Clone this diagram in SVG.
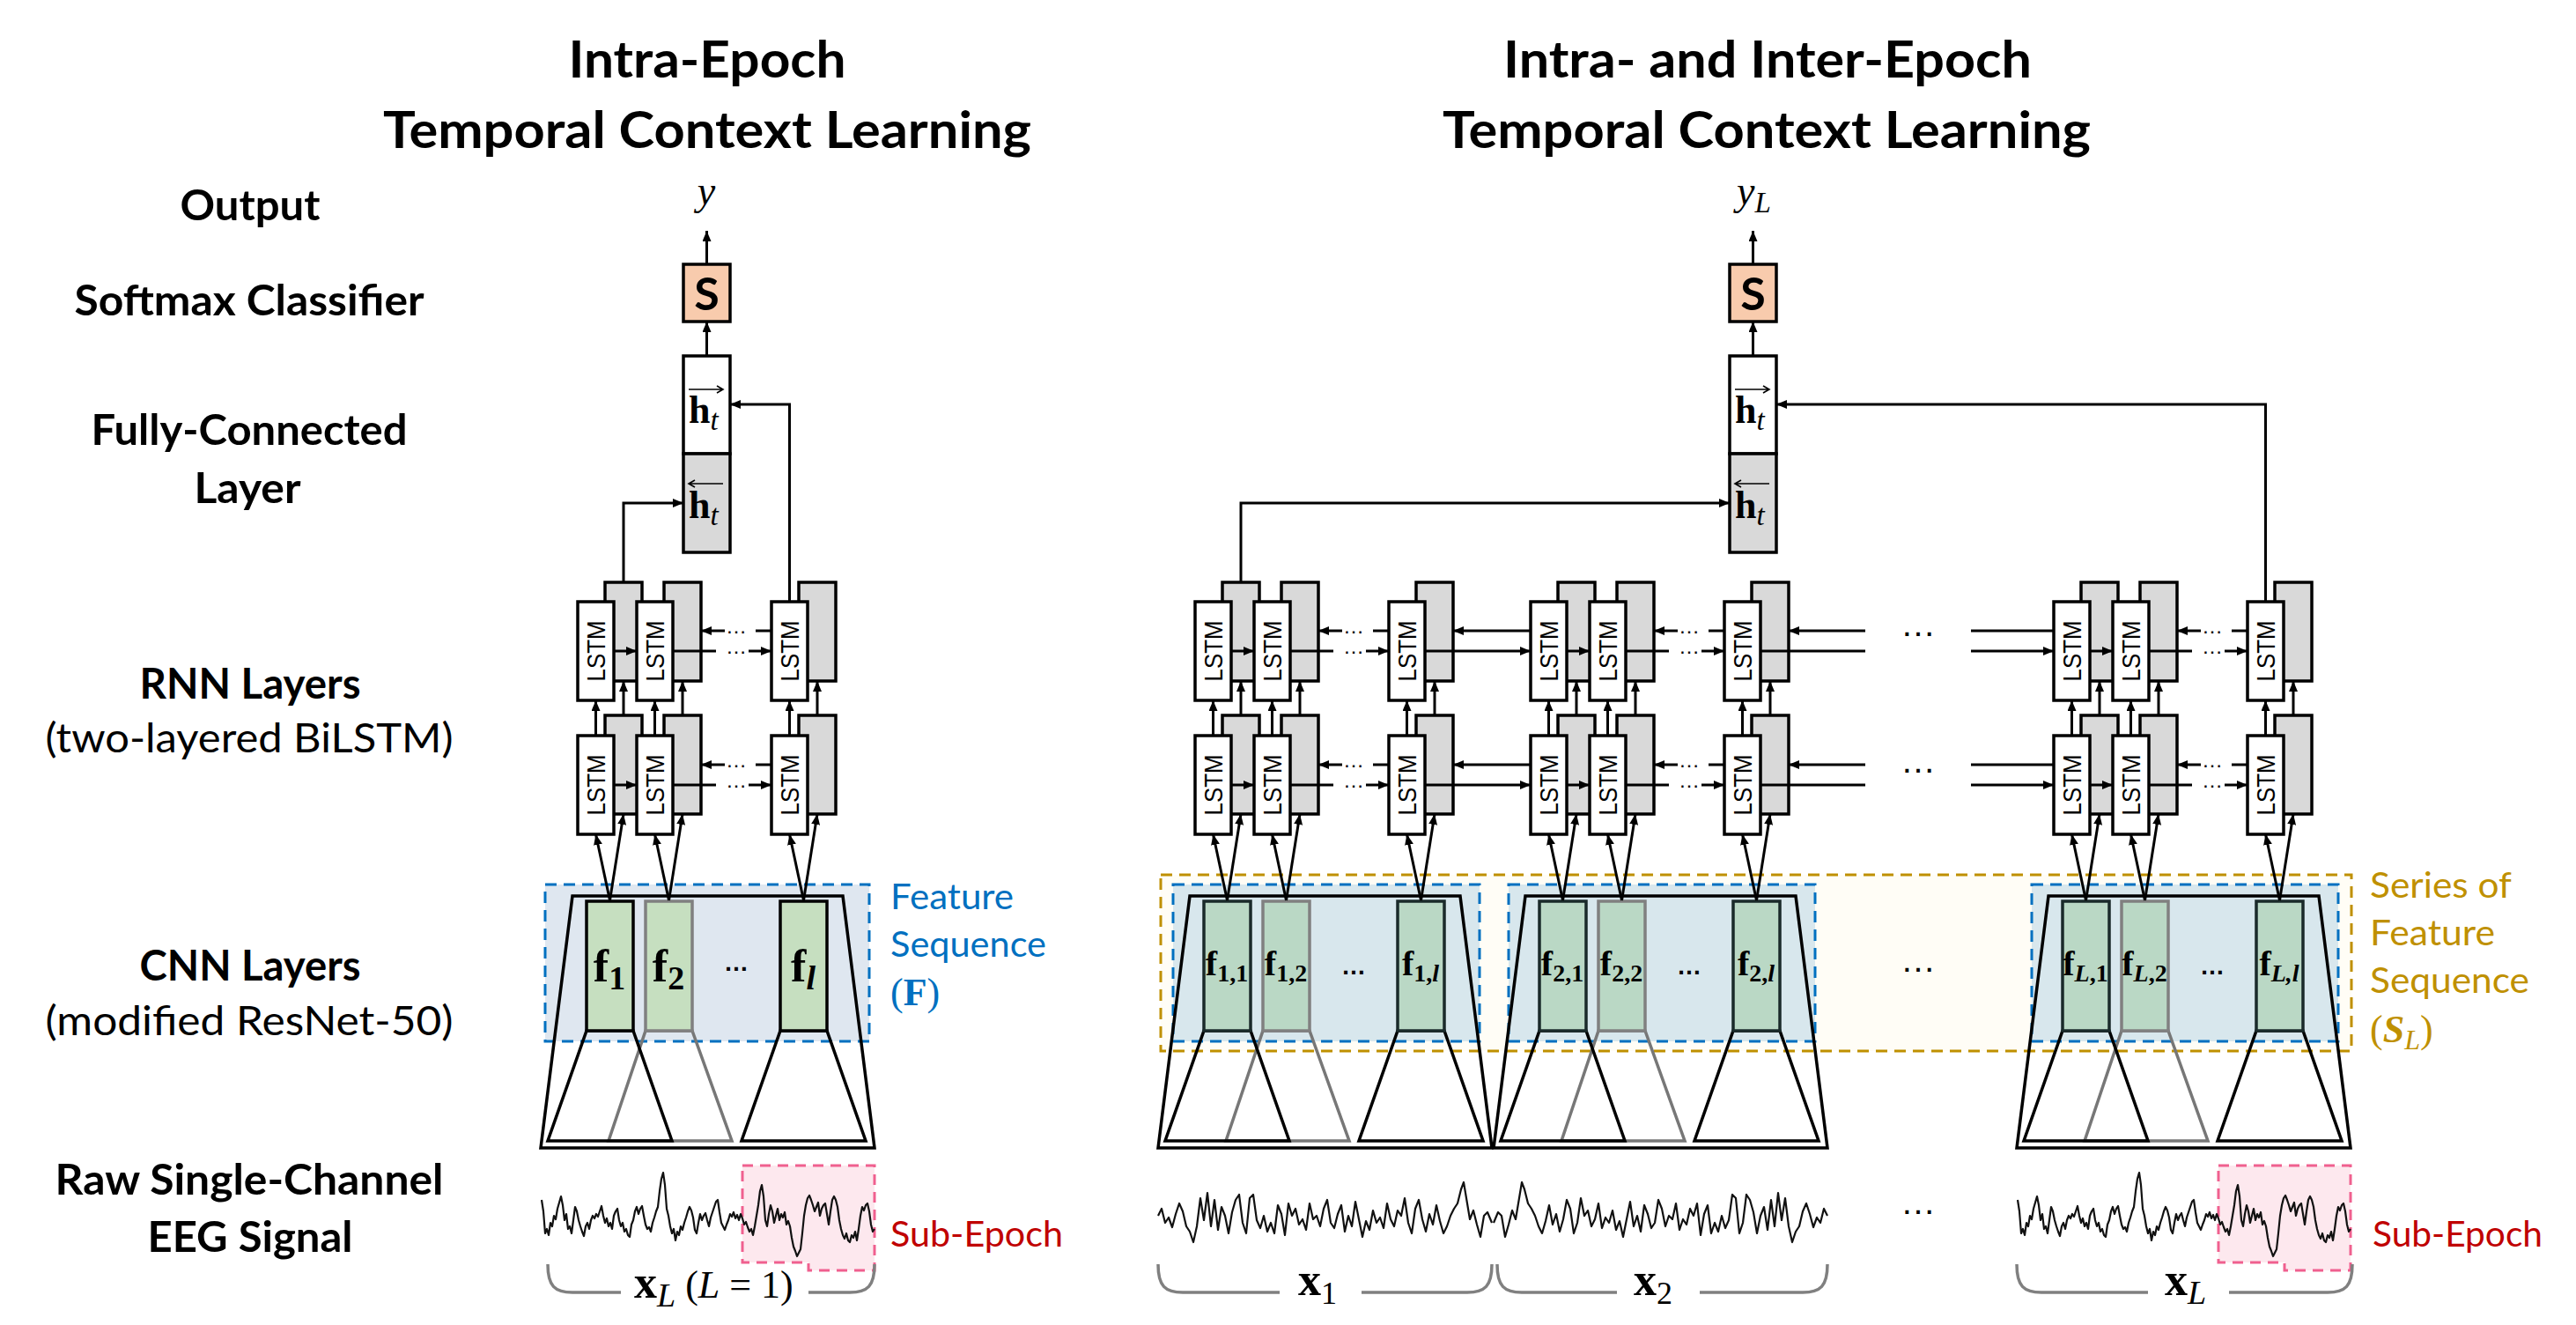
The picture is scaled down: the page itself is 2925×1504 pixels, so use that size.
<svg xmlns="http://www.w3.org/2000/svg" xmlns:xlink="http://www.w3.org/1999/xlink" width="2925" height="1504" viewBox="0 0 2925 1504">
<defs>
<marker id="ah" markerUnits="userSpaceOnUse" markerWidth="12" markerHeight="10" viewBox="0 0 12 10" refX="12" refY="5" orient="auto"><path d="M0,0 L12,5 L0,10 z" fill="#000"/></marker>
<style>
.bg{fill:#fff}
.gy{fill:#D9D9D9;stroke:#000;stroke-width:3.5}
.wh{fill:#fff;stroke:#000;stroke-width:3.5}
.ln{fill:none;stroke:#000;stroke-width:3}
.ar{fill:none;stroke:#000;stroke-width:3;marker-end:url(#ah)}
.thin{fill:none;stroke:#000;stroke-width:1.6}
.lstm{font-family:"Liberation Sans",Arial,sans-serif;font-size:29px;fill:#000}
.dots{font-family:"Liberation Sans",Arial,sans-serif;font-size:24px;fill:#000}
.bdots{font-family:"Liberation Sans",Arial,sans-serif;font-size:28px;fill:#000;font-weight:bold}
.hdots{font-family:"Liberation Sans",Arial,sans-serif;font-size:40px;fill:#000}
.ttl{font-family:Lato,"Liberation Sans",sans-serif;font-size:58px;font-weight:bold;fill:#000}
.lab{font-family:Lato,"Liberation Sans",sans-serif;font-size:48px;font-weight:bold;fill:#000}
.labn{font-family:Lato,"Liberation Sans",sans-serif;font-size:46px;fill:#000}
.blue{font-family:Lato,"Liberation Sans",sans-serif;font-size:40px;fill:#0070C0}
.gold{font-family:Lato,"Liberation Sans",sans-serif;font-size:40px;fill:#BF9000}
.red{font-family:Lato,"Liberation Sans",sans-serif;font-size:40px;fill:#C00000}
.math{font-family:"Liberation Serif","Times New Roman",serif;fill:#000}
.sbox{fill:#F8CBAD;stroke:#000;stroke-width:3.5}
.stxt{font-family:Lato,"Liberation Sans",sans-serif;font-size:52px;font-weight:bold;fill:#000}
.bluer{stroke:#0070C0;stroke-width:3;stroke-dasharray:13 8}
.fbox{fill:#C6DFC0;stroke:#000;stroke-width:3.5}
.fboxg{fill:#C6DFC0;stroke:#808080;stroke-width:3.5}
.fboxr{fill:#BAD8C5;stroke:#1A2A2A;stroke-width:3.5}
.fboxrg{fill:#BAD8C5;stroke:#808080;stroke-width:3.5}
.trap{fill:none;stroke:#000;stroke-width:3.5;stroke-linejoin:miter}
.trapg{fill:none;stroke:#777;stroke-width:3.5}
.sig{fill:none;stroke:#111;stroke-width:2.2;stroke-linejoin:round}
.pink{fill:#FDE8EE;stroke:#F0608F;stroke-width:3;stroke-dasharray:12 8}
.brace{fill:none;stroke:#808080;stroke-width:3.5}
</style>
<path id="sigA" class="sig" d="M615,1362 L617,1375 619,1400 621,1395 623,1402 625,1388 627,1392 629,1380 631,1384 633,1372 635,1365 637,1358 639,1368 641,1385 643,1378 645,1395 647,1392 649,1400 651,1385 653,1370 655,1375 657,1385 659,1392 661,1398 663,1403 665,1392 667,1388 669,1395 671,1385 673,1380 675,1383 677,1378 679,1381 681,1375 683,1369 685,1380 687,1388 689,1383 691,1392 693,1388 695,1395 697,1380 699,1375 701,1372 703,1385 705,1392 707,1388 709,1398 711,1395 713,1402 715,1404 717,1390 719,1385 721,1375 723,1370 725,1378 727,1372 729,1369 731,1380 733,1390 735,1395 737,1393 739,1398 741,1388 743,1382 745,1375 747,1370 749,1352 751,1338 753,1331 755,1345 757,1372 759,1380 761,1392 763,1400 765,1395 767,1408 769,1398 771,1402 773,1392 775,1396 777,1388 779,1382 781,1375 783,1370 785,1374 787,1382 789,1396 791,1400 793,1388 795,1378 797,1385 799,1380 801,1377 803,1385 805,1392 807,1382 809,1376 811,1370 813,1364 815,1362 817,1376 819,1388 821,1392 823,1396 825,1390 827,1385 829,1378 831,1381 833,1376 835,1383 837,1379 839,1385 841,1378 843,1383 845,1390 847,1387 849,1393 851,1398 853,1395 855,1402 857,1392 859,1380 861,1368 863,1352 865,1345 867,1358 869,1385 871,1392 873,1378 875,1368 877,1375 879,1388 881,1380 883,1372 885,1385 887,1378 889,1382 891,1376 893,1390 895,1386 897,1392 899,1405 901,1415 903,1420 905,1426 907,1422 909,1418 911,1400 913,1380 915,1368 917,1360 919,1357 921,1362 923,1368 925,1375 927,1370 929,1365 931,1380 933,1372 935,1368 937,1366 939,1378 941,1390 943,1375 945,1362 947,1358 949,1362 951,1370 953,1385 955,1395 957,1402 959,1406 961,1400 963,1408 965,1410 967,1402 969,1405 971,1398 973,1408 975,1395 977,1380 979,1370 981,1374 983,1368 985,1366 987,1375 989,1390 991,1398 993,1395"/>
<path id="sigB" class="sig" d="M1315,1380 L1319,1372 1323,1388 1327,1382 1331,1393 1335,1378 1339,1366 1343,1375 1347,1392 1351,1398 1355,1410 1359,1392 1363,1360 1367,1385 1371,1354 1375,1392 1379,1362 1383,1396 1387,1370 1391,1380 1395,1400 1399,1376 1403,1362 1407,1356 1411,1388 1415,1400 1419,1360 1423,1356 1427,1385 1431,1394 1435,1380 1439,1398 1443,1388 1447,1400 1451,1368 1455,1378 1459,1402 1463,1366 1467,1380 1471,1372 1475,1390 1479,1384 1483,1396 1487,1366 1491,1384 1495,1380 1499,1392 1503,1372 1507,1362 1511,1388 1515,1394 1519,1378 1523,1368 1527,1398 1531,1380 1535,1392 1539,1364 1543,1384 1547,1404 1551,1386 1555,1396 1559,1374 1563,1388 1567,1382 1571,1394 1575,1366 1579,1384 1583,1392 1587,1374 1591,1380 1595,1360 1599,1388 1603,1400 1607,1372 1611,1362 1615,1384 1619,1398 1623,1378 1627,1390 1631,1368 1635,1386 1639,1400 1643,1392 1647,1380 1651,1372 1655,1366 1659,1350 1662,1342 1665,1360 1669,1384 1673,1374 1677,1390 1681,1404 1685,1380 1689,1376 1694,1388"/>
</defs>
<rect class="bg" x="0" y="0" width="2925" height="1504"/>

<!-- Titles and row labels -->
<g id="titles">
<text class="ttl" x="803" y="88" text-anchor="middle" textLength="315" lengthAdjust="spacingAndGlyphs">Intra-Epoch</text>
<text class="ttl" x="803" y="168" text-anchor="middle" textLength="736" lengthAdjust="spacingAndGlyphs">Temporal Context Learning</text>
<text class="ttl" x="2007" y="88" text-anchor="middle" textLength="600" lengthAdjust="spacingAndGlyphs">Intra- and Inter-Epoch</text>
<text class="ttl" x="2006" y="168" text-anchor="middle" textLength="736" lengthAdjust="spacingAndGlyphs">Temporal Context Learning</text>
</g>
<g id="row-labels">
<text class="lab" x="284" y="250" text-anchor="middle" textLength="159" lengthAdjust="spacingAndGlyphs">Output</text>
<text class="lab" x="283" y="358" text-anchor="middle" textLength="397" lengthAdjust="spacingAndGlyphs">Softmax Classifier</text>
<text class="lab" x="283" y="505" text-anchor="middle" textLength="359" lengthAdjust="spacingAndGlyphs">Fully-Connected</text>
<text class="lab" x="281" y="571" text-anchor="middle" textLength="121" lengthAdjust="spacingAndGlyphs">Layer</text>
<text class="lab" x="284" y="793" text-anchor="middle" textLength="251" lengthAdjust="spacingAndGlyphs">RNN Layers</text>
<text class="labn" x="283" y="854" text-anchor="middle" textLength="463" lengthAdjust="spacingAndGlyphs">(two-layered BiLSTM)</text>
<text class="lab" x="284" y="1113" text-anchor="middle" textLength="251" lengthAdjust="spacingAndGlyphs">CNN Layers</text>
<text class="labn" x="283" y="1175" text-anchor="middle" textLength="463" lengthAdjust="spacingAndGlyphs">(modified ResNet-50)</text>
<text class="lab" x="283" y="1356" text-anchor="middle" textLength="441" lengthAdjust="spacingAndGlyphs">Raw Single-Channel</text>
<text class="lab" x="284" y="1421" text-anchor="middle" textLength="233" lengthAdjust="spacingAndGlyphs">EEG Signal</text>
</g>

<!-- Orange series region (right) -->
<g id="series-region">
<rect x="1318" y="993" width="1352" height="200" fill="#FFFDF6" stroke="#BF9000" stroke-width="3" stroke-dasharray="13 8"/>
<text class="gold" x="2691" y="1019" textLength="161" lengthAdjust="spacingAndGlyphs">Series of</text>
<text class="gold" x="2691" y="1073" textLength="142" lengthAdjust="spacingAndGlyphs">Feature</text>
<text class="gold" x="2691" y="1127" textLength="181" lengthAdjust="spacingAndGlyphs">Sequence</text>
<text class="math" x="2691" y="1183" font-size="44" style="fill:#BF9000">(<tspan font-weight="bold" font-style="italic">S</tspan><tspan font-style="italic" font-size="32" dy="8">L</tspan><tspan dy="-8">)</tspan></text>
</g>

<!-- Feature sequence boxes -->
<g id="feature-seq-left">
<rect x="619" y="1004" width="368" height="178" fill="#DFE7F0" class="bluer"/>
<text class="blue" x="1011" y="1032" textLength="140" lengthAdjust="spacingAndGlyphs">Feature</text>
<text class="blue" x="1011" y="1086" textLength="177" lengthAdjust="spacingAndGlyphs">Sequence</text>
<text class="math" x="1011" y="1141" font-size="44" style="fill:#0070C0">(<tspan font-weight="bold">F</tspan>)</text>
</g>
<g id="feature-seq-1"><rect x="1332" y="1004" width="348" height="178" fill="#D8E7ED" class="bluer"/></g>
<g id="feature-seq-2"><rect x="1713" y="1004" width="348" height="178" fill="#D8E7ED" class="bluer"/></g>
<g id="feature-seq-L"><rect x="2307" y="1004" width="348" height="178" fill="#D8E7ED" class="bluer"/></g>

<!-- CNN blocks -->
<g id="cnn-left">
<polygon class="trap" points="650,1017 957,1017 993,1303 614,1303"/>
<polygon class="trapg" points="733,1170 786,1170 831,1295 691,1295"/>
<polygon class="trap" points="666,1170 719,1170 763,1295 622,1295"/>
<polygon class="trap" points="886,1170 939,1170 983,1295 842,1295"/>
<rect class="fbox" x="666" y="1023" width="53" height="147"/>
<rect class="fboxg" x="733" y="1023" width="53" height="147"/>
<rect class="fbox" x="886" y="1023" width="53" height="147"/>
<text class="math" x="692" y="1114" text-anchor="middle" font-size="52" font-weight="bold">f<tspan font-size="38" dy="9">1</tspan></text>
<text class="math" x="759" y="1114" text-anchor="middle" font-size="52" font-weight="bold">f<tspan font-size="38" dy="9">2</tspan></text>
<text class="math" x="912" y="1114" text-anchor="middle" font-size="52" font-weight="bold">f<tspan font-size="38" dy="9" font-style="italic">l</tspan></text>
<text class="bdots" x="836" y="1102" text-anchor="middle">…</text>
</g>
<g id="cnn-1">
<polygon class="trap" points="1351,1017 1658,1017 1694,1303 1315,1303"/>
<polygon class="trapg" points="1434,1170 1487,1170 1532,1295 1392,1295"/>
<polygon class="trap" points="1367,1170 1420,1170 1464,1295 1323,1295"/>
<polygon class="trap" points="1587,1170 1640,1170 1684,1295 1543,1295"/>
<rect class="fboxr" x="1367" y="1023" width="53" height="147"/>
<rect class="fboxrg" x="1434" y="1023" width="53" height="147"/>
<rect class="fboxr" x="1587" y="1023" width="53" height="147"/>
<text class="math" x="1393" y="1107" text-anchor="middle" font-size="40" font-weight="bold">f<tspan font-size="28" dy="7">1,1</tspan></text>
<text class="math" x="1460" y="1107" text-anchor="middle" font-size="40" font-weight="bold">f<tspan font-size="28" dy="7">1,2</tspan></text>
<text class="math" x="1613" y="1107" text-anchor="middle" font-size="40" font-weight="bold">f<tspan font-size="28" dy="7">1,<tspan font-style="italic">l</tspan></tspan></text>
<text class="bdots" x="1537" y="1106" text-anchor="middle">…</text>
</g>
<g id="cnn-2">
<polygon class="trap" points="1732,1017 2039,1017 2075,1303 1696,1303"/>
<polygon class="trapg" points="1815,1170 1868,1170 1913,1295 1773,1295"/>
<polygon class="trap" points="1748,1170 1801,1170 1845,1295 1704,1295"/>
<polygon class="trap" points="1968,1170 2021,1170 2065,1295 1924,1295"/>
<rect class="fboxr" x="1748" y="1023" width="53" height="147"/>
<rect class="fboxrg" x="1815" y="1023" width="53" height="147"/>
<rect class="fboxr" x="1968" y="1023" width="53" height="147"/>
<text class="math" x="1774" y="1107" text-anchor="middle" font-size="40" font-weight="bold">f<tspan font-size="28" dy="7">2,1</tspan></text>
<text class="math" x="1841" y="1107" text-anchor="middle" font-size="40" font-weight="bold">f<tspan font-size="28" dy="7">2,2</tspan></text>
<text class="math" x="1994" y="1107" text-anchor="middle" font-size="40" font-weight="bold">f<tspan font-size="28" dy="7">2,<tspan font-style="italic">l</tspan></tspan></text>
<text class="bdots" x="1918" y="1106" text-anchor="middle">…</text>
</g>
<g id="cnn-L">
<polygon class="trap" points="2326,1017 2633,1017 2669,1303 2290,1303"/>
<polygon class="trapg" points="2409,1170 2462,1170 2507,1295 2367,1295"/>
<polygon class="trap" points="2342,1170 2395,1170 2439,1295 2298,1295"/>
<polygon class="trap" points="2562,1170 2615,1170 2659,1295 2518,1295"/>
<rect class="fboxr" x="2342" y="1023" width="53" height="147"/>
<rect class="fboxrg" x="2409" y="1023" width="53" height="147"/>
<rect class="fboxr" x="2562" y="1023" width="53" height="147"/>
<text class="math" x="2368" y="1107" text-anchor="middle" font-size="40" font-weight="bold">f<tspan font-size="28" dy="7"><tspan font-style="italic">L</tspan>,1</tspan></text>
<text class="math" x="2435" y="1107" text-anchor="middle" font-size="40" font-weight="bold">f<tspan font-size="28" dy="7"><tspan font-style="italic">L</tspan>,2</tspan></text>
<text class="math" x="2588" y="1107" text-anchor="middle" font-size="40" font-weight="bold">f<tspan font-size="28" dy="7" font-style="italic">L,l</tspan></text>
<text class="bdots" x="2512" y="1106" text-anchor="middle">…</text>
</g>
<text class="hdots" x="2178" y="1103" text-anchor="middle">…</text>

<!-- LSTM blocks (gray backward cells, white forward cells) -->
<g id="lstm-left">
<rect class="gy" x="687" y="661" width="42" height="112"/><rect class="gy" x="754" y="661" width="42" height="112"/><rect class="gy" x="907" y="661" width="42" height="112"/>
<rect class="gy" x="687" y="812" width="42" height="112"/><rect class="gy" x="754" y="812" width="42" height="112"/><rect class="gy" x="907" y="812" width="42" height="112"/>
<rect class="wh" x="656" y="683" width="41" height="112"/><rect class="wh" x="723" y="683" width="41" height="112"/><rect class="wh" x="876" y="683" width="41" height="112"/>
<rect class="wh" x="656" y="835" width="41" height="112"/><rect class="wh" x="723" y="835" width="41" height="112"/><rect class="wh" x="876" y="835" width="41" height="112"/>
<text class="lstm" transform="translate(676.5,739) rotate(-90)" text-anchor="middle" dominant-baseline="central" textLength="69" lengthAdjust="spacingAndGlyphs">LSTM</text>
<text class="lstm" transform="translate(743.5,739) rotate(-90)" text-anchor="middle" dominant-baseline="central" textLength="69" lengthAdjust="spacingAndGlyphs">LSTM</text>
<text class="lstm" transform="translate(896.5,739) rotate(-90)" text-anchor="middle" dominant-baseline="central" textLength="69" lengthAdjust="spacingAndGlyphs">LSTM</text>
<text class="lstm" transform="translate(676.5,891) rotate(-90)" text-anchor="middle" dominant-baseline="central" textLength="69" lengthAdjust="spacingAndGlyphs">LSTM</text>
<text class="lstm" transform="translate(743.5,891) rotate(-90)" text-anchor="middle" dominant-baseline="central" textLength="69" lengthAdjust="spacingAndGlyphs">LSTM</text>
<text class="lstm" transform="translate(896.5,891) rotate(-90)" text-anchor="middle" dominant-baseline="central" textLength="69" lengthAdjust="spacingAndGlyphs">LSTM</text>
<text class="dots" x="836" y="719" text-anchor="middle">…</text><text class="dots" x="836" y="742" text-anchor="middle">…</text>
<text class="dots" x="836" y="871" text-anchor="middle">…</text><text class="dots" x="836" y="894" text-anchor="middle">…</text>
</g>
<g id="lstm-1">
<rect class="gy" x="1388" y="661" width="42" height="112"/><rect class="gy" x="1455" y="661" width="42" height="112"/><rect class="gy" x="1608" y="661" width="42" height="112"/>
<rect class="gy" x="1388" y="812" width="42" height="112"/><rect class="gy" x="1455" y="812" width="42" height="112"/><rect class="gy" x="1608" y="812" width="42" height="112"/>
<rect class="wh" x="1357" y="683" width="41" height="112"/><rect class="wh" x="1424" y="683" width="41" height="112"/><rect class="wh" x="1577" y="683" width="41" height="112"/>
<rect class="wh" x="1357" y="835" width="41" height="112"/><rect class="wh" x="1424" y="835" width="41" height="112"/><rect class="wh" x="1577" y="835" width="41" height="112"/>
<text class="lstm" transform="translate(1377.5,739) rotate(-90)" text-anchor="middle" dominant-baseline="central" textLength="69" lengthAdjust="spacingAndGlyphs">LSTM</text>
<text class="lstm" transform="translate(1444.5,739) rotate(-90)" text-anchor="middle" dominant-baseline="central" textLength="69" lengthAdjust="spacingAndGlyphs">LSTM</text>
<text class="lstm" transform="translate(1597.5,739) rotate(-90)" text-anchor="middle" dominant-baseline="central" textLength="69" lengthAdjust="spacingAndGlyphs">LSTM</text>
<text class="lstm" transform="translate(1377.5,891) rotate(-90)" text-anchor="middle" dominant-baseline="central" textLength="69" lengthAdjust="spacingAndGlyphs">LSTM</text>
<text class="lstm" transform="translate(1444.5,891) rotate(-90)" text-anchor="middle" dominant-baseline="central" textLength="69" lengthAdjust="spacingAndGlyphs">LSTM</text>
<text class="lstm" transform="translate(1597.5,891) rotate(-90)" text-anchor="middle" dominant-baseline="central" textLength="69" lengthAdjust="spacingAndGlyphs">LSTM</text>
<text class="dots" x="1537" y="719" text-anchor="middle">…</text><text class="dots" x="1537" y="742" text-anchor="middle">…</text>
<text class="dots" x="1537" y="871" text-anchor="middle">…</text><text class="dots" x="1537" y="894" text-anchor="middle">…</text>
</g>
<g id="lstm-2">
<rect class="gy" x="1769" y="661" width="42" height="112"/><rect class="gy" x="1836" y="661" width="42" height="112"/><rect class="gy" x="1989" y="661" width="42" height="112"/>
<rect class="gy" x="1769" y="812" width="42" height="112"/><rect class="gy" x="1836" y="812" width="42" height="112"/><rect class="gy" x="1989" y="812" width="42" height="112"/>
<rect class="wh" x="1738" y="683" width="41" height="112"/><rect class="wh" x="1805" y="683" width="41" height="112"/><rect class="wh" x="1958" y="683" width="41" height="112"/>
<rect class="wh" x="1738" y="835" width="41" height="112"/><rect class="wh" x="1805" y="835" width="41" height="112"/><rect class="wh" x="1958" y="835" width="41" height="112"/>
<text class="lstm" transform="translate(1758.5,739) rotate(-90)" text-anchor="middle" dominant-baseline="central" textLength="69" lengthAdjust="spacingAndGlyphs">LSTM</text>
<text class="lstm" transform="translate(1825.5,739) rotate(-90)" text-anchor="middle" dominant-baseline="central" textLength="69" lengthAdjust="spacingAndGlyphs">LSTM</text>
<text class="lstm" transform="translate(1978.5,739) rotate(-90)" text-anchor="middle" dominant-baseline="central" textLength="69" lengthAdjust="spacingAndGlyphs">LSTM</text>
<text class="lstm" transform="translate(1758.5,891) rotate(-90)" text-anchor="middle" dominant-baseline="central" textLength="69" lengthAdjust="spacingAndGlyphs">LSTM</text>
<text class="lstm" transform="translate(1825.5,891) rotate(-90)" text-anchor="middle" dominant-baseline="central" textLength="69" lengthAdjust="spacingAndGlyphs">LSTM</text>
<text class="lstm" transform="translate(1978.5,891) rotate(-90)" text-anchor="middle" dominant-baseline="central" textLength="69" lengthAdjust="spacingAndGlyphs">LSTM</text>
<text class="dots" x="1918" y="719" text-anchor="middle">…</text><text class="dots" x="1918" y="742" text-anchor="middle">…</text>
<text class="dots" x="1918" y="871" text-anchor="middle">…</text><text class="dots" x="1918" y="894" text-anchor="middle">…</text>
</g>
<g id="lstm-L">
<rect class="gy" x="2363" y="661" width="42" height="112"/><rect class="gy" x="2430" y="661" width="42" height="112"/><rect class="gy" x="2583" y="661" width="42" height="112"/>
<rect class="gy" x="2363" y="812" width="42" height="112"/><rect class="gy" x="2430" y="812" width="42" height="112"/><rect class="gy" x="2583" y="812" width="42" height="112"/>
<rect class="wh" x="2332" y="683" width="41" height="112"/><rect class="wh" x="2399" y="683" width="41" height="112"/><rect class="wh" x="2552" y="683" width="41" height="112"/>
<rect class="wh" x="2332" y="835" width="41" height="112"/><rect class="wh" x="2399" y="835" width="41" height="112"/><rect class="wh" x="2552" y="835" width="41" height="112"/>
<text class="lstm" transform="translate(2352.5,739) rotate(-90)" text-anchor="middle" dominant-baseline="central" textLength="69" lengthAdjust="spacingAndGlyphs">LSTM</text>
<text class="lstm" transform="translate(2419.5,739) rotate(-90)" text-anchor="middle" dominant-baseline="central" textLength="69" lengthAdjust="spacingAndGlyphs">LSTM</text>
<text class="lstm" transform="translate(2572.5,739) rotate(-90)" text-anchor="middle" dominant-baseline="central" textLength="69" lengthAdjust="spacingAndGlyphs">LSTM</text>
<text class="lstm" transform="translate(2352.5,891) rotate(-90)" text-anchor="middle" dominant-baseline="central" textLength="69" lengthAdjust="spacingAndGlyphs">LSTM</text>
<text class="lstm" transform="translate(2419.5,891) rotate(-90)" text-anchor="middle" dominant-baseline="central" textLength="69" lengthAdjust="spacingAndGlyphs">LSTM</text>
<text class="lstm" transform="translate(2572.5,891) rotate(-90)" text-anchor="middle" dominant-baseline="central" textLength="69" lengthAdjust="spacingAndGlyphs">LSTM</text>
<text class="dots" x="2512" y="719" text-anchor="middle">…</text><text class="dots" x="2512" y="742" text-anchor="middle">…</text>
<text class="dots" x="2512" y="871" text-anchor="middle">…</text><text class="dots" x="2512" y="894" text-anchor="middle">…</text>
</g>
<text class="hdots" x="2178" y="722" text-anchor="middle">…</text>
<text class="hdots" x="2178" y="877" text-anchor="middle">…</text>

<!-- Fully-connected and softmax -->
<g id="fc-left">
<rect class="wh" x="776" y="404" width="53" height="111"/>
<rect class="gy" x="776" y="515" width="53" height="112"/>
<path class="thin" d="M782,442 H821 M814,438 L821,442 L814,446"/>
<text class="math" x="782" y="480" font-size="44" font-weight="bold">h<tspan font-size="33" font-style="italic" font-weight="normal" dy="8">t</tspan></text>
<path class="thin" d="M782,549 H821 M789,545 L782,549 L789,553"/>
<text class="math" x="782" y="588" font-size="44" font-weight="bold">h<tspan font-size="33" font-style="italic" font-weight="normal" dy="8">t</tspan></text>
</g>
<g id="softmax-left">
<rect class="sbox" x="776" y="300" width="53" height="65"/>
<text class="stxt" x="802.5" y="352" text-anchor="middle">S</text>
</g>
<g id="output-left"><text class="math" x="802" y="232" text-anchor="middle" font-size="46" font-style="italic">y</text></g>
<g id="fc-right">
<rect class="wh" x="1964" y="404" width="53" height="111"/>
<rect class="gy" x="1964" y="515" width="53" height="112"/>
<path class="thin" d="M1970,442 H2009 M2002,438 L2009,442 L2002,446"/>
<text class="math" x="1970" y="480" font-size="44" font-weight="bold">h<tspan font-size="33" font-style="italic" font-weight="normal" dy="8">t</tspan></text>
<path class="thin" d="M1970,549 H2009 M1977,545 L1970,549 L1977,553"/>
<text class="math" x="1970" y="588" font-size="44" font-weight="bold">h<tspan font-size="33" font-style="italic" font-weight="normal" dy="8">t</tspan></text>
</g>
<g id="softmax-right">
<rect class="sbox" x="1964" y="300" width="53" height="65"/>
<text class="stxt" x="1990.5" y="352" text-anchor="middle">S</text>
</g>
<g id="output-right"><text class="math" x="1972" y="232" font-size="46" font-style="italic">y<tspan font-size="33" dy="9">L</tspan></text></g>

<!-- EEG signals -->
<g id="eeg-left">
<polygon class="pink" points="843,1323 993,1323 993,1442 918,1442 918,1433 843,1433"/>
<use xlink:href="#sigA" href="#sigA"/>
<text class="red" x="1011" y="1415" textLength="196" lengthAdjust="spacingAndGlyphs">Sub-Epoch</text>
<path class="brace" d="M622,1435 C622,1460 630,1467 650,1467 L705,1467 M918,1467 L965,1467 C985,1467 993,1460 993,1435"/>
<text class="math" x="720" y="1473" font-size="52" font-weight="bold">x<tspan font-size="38" font-style="italic" font-weight="normal" dy="10">L</tspan><tspan font-size="44" font-weight="normal" dy="-10"> (</tspan><tspan font-size="44" font-weight="normal" font-style="italic">L</tspan><tspan font-size="44" font-weight="normal"> = 1)</tspan></text>
</g>
<g id="eeg-1">
<use xlink:href="#sigB" href="#sigB"/>
<path class="brace" d="M1315,1435 C1315,1460 1323,1467 1343,1467 L1453,1467 M1546,1467 L1666,1467 C1686,1467 1694,1460 1694,1435"/>
<text class="math" x="1474" y="1470" font-size="52" font-weight="bold">x<tspan font-size="36" font-weight="normal" dy="10">1</tspan></text>
</g>
<g id="eeg-2">
<use xlink:href="#sigB" href="#sigB" transform="translate(3390,0) scale(-1,1)"/>
<path class="brace" d="M1700,1435 C1700,1460 1708,1467 1728,1467 L1836,1467 M1930,1467 L2047,1467 C2067,1467 2075,1460 2075,1435"/>
<text class="math" x="1855" y="1470" font-size="52" font-weight="bold">x<tspan font-size="36" font-weight="normal" dy="10">2</tspan></text>
</g>
<text class="hdots" x="2178" y="1378" text-anchor="middle">…</text>
<g id="eeg-L">
<polygon class="pink" points="2519,1323 2669,1323 2669,1442 2594,1442 2594,1433 2519,1433"/>
<use xlink:href="#sigA" href="#sigA" transform="translate(1676,0)"/>
<text class="red" x="2694" y="1415" textLength="193" lengthAdjust="spacingAndGlyphs">Sub-Epoch</text>
<path class="brace" d="M2290,1435 C2290,1460 2298,1467 2318,1467 L2439,1467 M2531,1467 L2643,1467 C2663,1467 2671,1460 2671,1435"/>
<text class="math" x="2458" y="1470" font-size="52" font-weight="bold">x<tspan font-size="38" font-style="italic" font-weight="normal" dy="10">L</tspan></text>
</g>

<!-- Connectors -->
<g id="connectors">
<path class="ar" d="M802.5,300 V262"/><path class="ar" d="M802.5,404 V365"/>
<path class="ar" d="M1990.5,300 V262"/><path class="ar" d="M1990.5,404 V365"/>
<path class="ar" d="M708,661 V571 H776"/><path class="ar" d="M896.5,683 V459 H829"/>
<path class="ar" d="M1409,661 V571 H1964"/><path class="ar" d="M2572.5,683 V459 H2017"/>

<path class="ar" d="M697,739 H723"/><path class="ln" d="M765,739 H813"/><path class="ar" d="M850,739 H876"/>
<path class="ln" d="M876,716 H858"/><path class="ar" d="M823,716 H796"/>
<path class="ar" d="M697,891 H723"/><path class="ln" d="M765,891 H813"/><path class="ar" d="M850,891 H876"/>
<path class="ln" d="M876,868 H858"/><path class="ar" d="M823,868 H796"/>
<path class="ar" d="M676.5,835 V795"/><path class="ar" d="M743.5,835 V795"/><path class="ar" d="M896.5,835 V795"/>
<path class="ar" d="M708,812 V773"/><path class="ar" d="M775,812 V773"/><path class="ar" d="M928,812 V773"/>
<path class="ar" d="M692.5,1022 L676.5,947"/><path class="ar" d="M692.5,1022 L708,924"/>
<path class="ar" d="M759.5,1022 L743.5,947"/><path class="ar" d="M759.5,1022 L775,924"/>
<path class="ar" d="M912.5,1022 L896.5,947"/><path class="ar" d="M912.5,1022 L928,924"/>

<path class="ar" d="M1398,739 H1424"/><path class="ln" d="M1466,739 H1514"/><path class="ar" d="M1551,739 H1577"/>
<path class="ln" d="M1577,716 H1559"/><path class="ar" d="M1524,716 H1497"/>
<path class="ar" d="M1398,891 H1424"/><path class="ln" d="M1466,891 H1514"/><path class="ar" d="M1551,891 H1577"/>
<path class="ln" d="M1577,868 H1559"/><path class="ar" d="M1524,868 H1497"/>
<path class="ar" d="M1377.5,835 V795"/><path class="ar" d="M1444.5,835 V795"/><path class="ar" d="M1597.5,835 V795"/>
<path class="ar" d="M1409,812 V773"/><path class="ar" d="M1476,812 V773"/><path class="ar" d="M1629,812 V773"/>
<path class="ar" d="M1393.5,1022 L1377.5,947"/><path class="ar" d="M1393.5,1022 L1409,924"/>
<path class="ar" d="M1460.5,1022 L1444.5,947"/><path class="ar" d="M1460.5,1022 L1476,924"/>
<path class="ar" d="M1613.5,1022 L1597.5,947"/><path class="ar" d="M1613.5,1022 L1629,924"/>

<path class="ar" d="M1618,739 H1738"/><path class="ar" d="M1738,716 H1650"/>
<path class="ar" d="M1618,891 H1738"/><path class="ar" d="M1738,868 H1650"/>

<path class="ar" d="M1779,739 H1805"/><path class="ln" d="M1847,739 H1895"/><path class="ar" d="M1932,739 H1958"/>
<path class="ln" d="M1958,716 H1940"/><path class="ar" d="M1905,716 H1878"/>
<path class="ar" d="M1779,891 H1805"/><path class="ln" d="M1847,891 H1895"/><path class="ar" d="M1932,891 H1958"/>
<path class="ln" d="M1958,868 H1940"/><path class="ar" d="M1905,868 H1878"/>
<path class="ar" d="M1758.5,835 V795"/><path class="ar" d="M1825.5,835 V795"/><path class="ar" d="M1978.5,835 V795"/>
<path class="ar" d="M1790,812 V773"/><path class="ar" d="M1857,812 V773"/><path class="ar" d="M2010,812 V773"/>
<path class="ar" d="M1774.5,1022 L1758.5,947"/><path class="ar" d="M1774.5,1022 L1790,924"/>
<path class="ar" d="M1841.5,1022 L1825.5,947"/><path class="ar" d="M1841.5,1022 L1857,924"/>
<path class="ar" d="M1994.5,1022 L1978.5,947"/><path class="ar" d="M1994.5,1022 L2010,924"/>

<path class="ln" d="M1999,739 H2118"/><path class="ar" d="M2118,716 H2031"/>
<path class="ln" d="M1999,891 H2118"/><path class="ar" d="M2118,868 H2031"/>
<path class="ar" d="M2238,739 H2332"/><path class="ln" d="M2332,716 H2238"/>
<path class="ar" d="M2238,891 H2332"/><path class="ln" d="M2332,868 H2238"/>

<path class="ar" d="M2373,739 H2399"/><path class="ln" d="M2441,739 H2489"/><path class="ar" d="M2526,739 H2552"/>
<path class="ln" d="M2552,716 H2534"/><path class="ar" d="M2499,716 H2472"/>
<path class="ar" d="M2373,891 H2399"/><path class="ln" d="M2441,891 H2489"/><path class="ar" d="M2526,891 H2552"/>
<path class="ln" d="M2552,868 H2534"/><path class="ar" d="M2499,868 H2472"/>
<path class="ar" d="M2352.5,835 V795"/><path class="ar" d="M2419.5,835 V795"/><path class="ar" d="M2572.5,835 V795"/>
<path class="ar" d="M2384,812 V773"/><path class="ar" d="M2451,812 V773"/><path class="ar" d="M2604,812 V773"/>
<path class="ar" d="M2368.5,1022 L2352.5,947"/><path class="ar" d="M2368.5,1022 L2384,924"/>
<path class="ar" d="M2435.5,1022 L2419.5,947"/><path class="ar" d="M2435.5,1022 L2451,924"/>
<path class="ar" d="M2588.5,1022 L2572.5,947"/><path class="ar" d="M2588.5,1022 L2604,924"/>
</g>
</svg>
